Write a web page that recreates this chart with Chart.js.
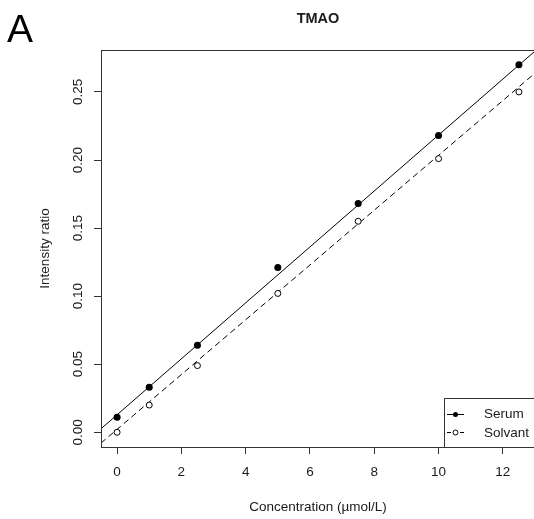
<html>

<head>
    <title>TMAO</title>
    <script src="https://cdnjs.cloudflare.com/ajax/libs/Chart.js/4.4.1/chart.umd.min.js"></script>
    <style>
        body { margin: 0; overflow: hidden; background: #fff; }
        #panel { position: absolute; left: 7px; top: 7px; font: 39px "Liberation Sans", Arial, sans-serif; color: #000; }
    </style>
</head>

<body>
    <div id="panel">A</div>
    <!-- canvas a bit wider than the window: the plot box runs off the right edge -->
    <canvas id="tmao" width="540" height="519"></canvas>
    <script>

        const concentrations = [0, 1, 2.5, 5, 7.5, 10, 12.5];
        const serumRatio = [0.011, 0.033, 0.064, 0.121, 0.168, 0.218, 0.270];
        const solvantRatio = [0.000, 0.020, 0.049, 0.102, 0.155, 0.201, 0.250];

        // regression lines, read at both edges of the plot
        const fitX = [-0.5, 13];
        const serumFit = [0.0026, 0.2800];
        const solvantFit = [-0.0079, 0.2638];

        const xTitle = "Concentration (\u00b5mol/L)";
        const yTitle = "Intensity ratio";
        const mainTitle = "TMAO";

        const FONT = '"Liberation Sans", Arial, sans-serif';

        function pts(xs, ys) {
            return xs.map((x, i) => ({ x: x, y: ys[i] }));
        }

        const extras = {
            id: 'extras',
            afterDraw(chart) {
                const ctx = chart.ctx;
                const a = chart.chartArea;
                const y = chart.scales.y;
                ctx.save();
                ctx.strokeStyle = '#333';
                ctx.lineWidth = 1;
                ctx.strokeRect(a.left + 0.5, a.top + 0.5, a.right - a.left, a.bottom - a.top);

                ctx.fillStyle = '#1a1a1a';
                ctx.font = '13.5px ' + FONT;
                ctx.textAlign = 'center';
                ctx.textBaseline = 'middle';
                y.ticks.forEach(t => {
                    ctx.save();
                    ctx.translate(78, y.getPixelForValue(t.value));
                    ctx.rotate(-Math.PI / 2);
                    ctx.fillText(t.value.toFixed(2), 0, 0);
                    ctx.restore();
                });
                ctx.save();
                ctx.translate(45, (a.top + a.bottom) / 2);
                ctx.rotate(-Math.PI / 2);
                ctx.fillText(yTitle, 0, 0);
                ctx.restore();

                ctx.fillText(xTitle, (a.left + a.right) / 2, 507);

                ctx.font = 'bold 14.5px ' + FONT;
                ctx.fillText(mainTitle, (a.left + a.right) / 2, 19);

                // legend
                const lx = 444, ly = 398;
                ctx.fillStyle = '#fff';
                ctx.fillRect(lx, ly, 100, a.bottom - ly);
                ctx.strokeStyle = '#333';
                ctx.strokeRect(lx + 0.5, ly + 0.5, 100, a.bottom - ly);
                ctx.strokeStyle = '#000';
                ctx.fillStyle = '#000';
                ctx.beginPath();
                ctx.moveTo(447, 414.5); ctx.lineTo(464, 414.5);
                ctx.stroke();
                ctx.beginPath();
                ctx.arc(455.5, 414.5, 2.5, 0, Math.PI * 2);
                ctx.fill();
                ctx.beginPath();
                ctx.moveTo(447, 432.5); ctx.lineTo(451, 432.5);
                ctx.moveTo(460, 432.5); ctx.lineTo(464, 432.5);
                ctx.stroke();
                ctx.beginPath();
                ctx.arc(455.5, 432.5, 2.5, 0, Math.PI * 2);
                ctx.stroke();
                ctx.fillStyle = '#1a1a1a';
                ctx.font = '13.5px ' + FONT;
                ctx.textAlign = 'left';
                ctx.fillText(chart.data.datasets[0].label, 484, 414);
                ctx.fillText(chart.data.datasets[1].label, 484, 433);
                ctx.restore();
            }
        };

        let ctxTmao = document.getElementById('tmao').getContext('2d');
        let tmao = new Chart(ctxTmao, {
            type: 'scatter',
            data: {
                datasets: [{
                    label: "Serum",
                    data: pts(concentrations, serumRatio),
                    pointRadius: 3.5,
                    pointBackgroundColor: '#000',
                    pointBorderColor: '#000',
                    pointBorderWidth: 0,
                    order: 0
                }, {
                    label: "Solvant",
                    data: pts(concentrations, solvantRatio),
                    pointRadius: 3,
                    pointBackgroundColor: '#fff',
                    pointBorderColor: '#000',
                    pointBorderWidth: 1,
                    order: 1
                }, {
                    label: "Serum fit",
                    data: pts(fitX, serumFit),
                    showLine: true,
                    pointRadius: 0,
                    borderColor: '#000',
                    borderWidth: 1,
                    order: 2
                }, {
                    label: "Solvant fit",
                    data: pts(fitX, solvantFit),
                    showLine: true,
                    pointRadius: 0,
                    borderColor: '#000',
                    borderWidth: 1,
                    borderDash: [6, 4],
                    order: 3
                }]
            },
            options: {
                animation: false,
                responsive: false,
                events: [],
                layout: {
                    padding: { left: 0, top: 50, right: 5, bottom: 0 }
                },
                plugins: {
                    legend: { display: false },
                    title: { display: false },
                    tooltip: { enabled: false }
                },
                scales: {
                    x: {
                        type: 'linear',
                        min: -0.5,
                        max: 13,
                        afterFit: s => { s.height = 72; },
                        border: { display: false },
                        grid: {
                            drawOnChartArea: false,
                            drawTicks: true,
                            tickLength: 7,
                            color: '#333'
                        },
                        ticks: {
                            stepSize: 2,
                            includeBounds: false,
                            padding: 10,
                            color: '#1a1a1a',
                            font: { family: FONT, size: 13.5 },
                            maxRotation: 0
                        }
                    },
                    y: {
                        min: -0.0108,
                        max: 0.2808,
                        afterFit: s => { s.width = 101; },
                        border: { display: false },
                        grid: {
                            drawOnChartArea: false,
                            drawTicks: true,
                            tickLength: 7,
                            color: '#333'
                        },
                        ticks: {
                            stepSize: 0.05,
                            includeBounds: false,
                            display: false
                        }
                    }
                }
            },
            plugins: [extras]
        });
    </script>
</body>

</html>
